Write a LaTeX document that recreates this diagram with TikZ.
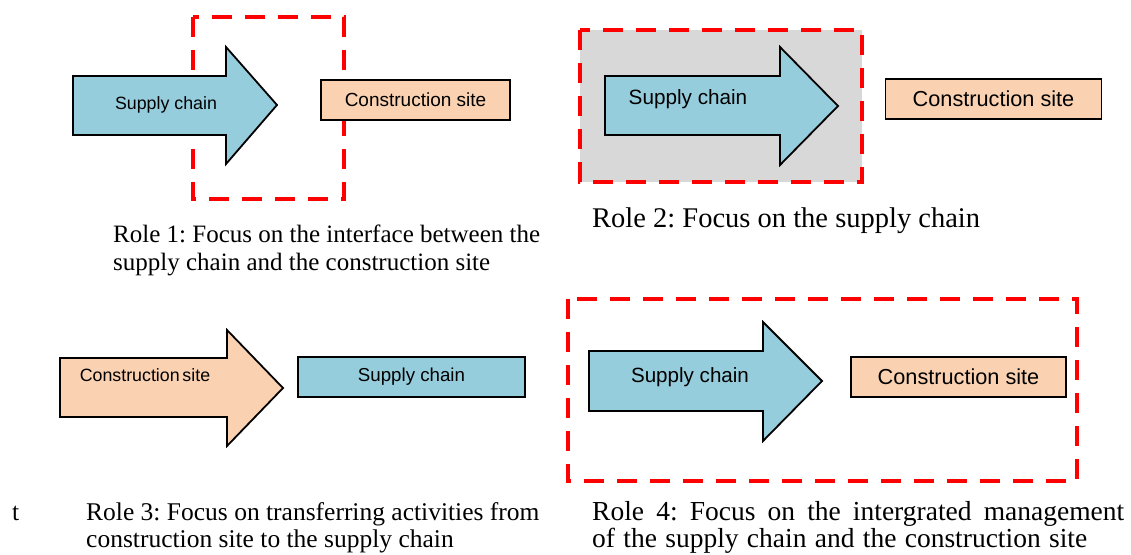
\documentclass[tikz,border=0pt]{standalone}
\usepackage{fontspec}
\setmainfont{Liberation Serif}
\setsansfont{Liberation Sans}
\usepackage{tikz}
\frenchspacing
\definecolor{scblue}{RGB}{150, 205, 220}
\definecolor{csorange}{RGB}{250, 210, 178}
\definecolor{focusgray}{RGB}{216, 216, 216}
\definecolor{focusred}{RGB}{255, 0, 0}
\tikzset{
	focus/.style={focusred, line width=4pt, dash pattern=on 20pt off 13pt},
	bigarrow/.style={draw=black, line width=1.8pt, line join=miter},
	flatbox/.style={draw=black, line width=1.4pt, minimum height=40pt, inner sep=0pt},
	boxtext/.style={font=\sffamily, inner sep=0pt},
	role/.style={anchor=base west, inner sep=0pt}
}

\begin{document}
\begin{tikzpicture}[x=1pt, y=-1pt]
	\useasboundingbox (0,0) rectangle (1131,554);
	
	% Role 1
	\draw[focus] (193,17) rectangle (344,199);
	\draw[bigarrow, fill=scblue] (73,76) -- (226,76) -- (226,47) -- (277,105) -- (226,164) -- (226,135) -- (73,135) -- cycle;
	\node[boxtext, font=\sffamily\fontsize{17.8}{20}\selectfont] (sc1) at (166,105) {Supply chain};
	\node[flatbox, fill=csorange, minimum width=189pt] (cs1) at (415.5,100) {};
	\node[boxtext, font=\sffamily\fontsize{19}{22}\selectfont] (cs1t) at (cs1) {Construction site};
	\node[role, font=\fontsize{25}{28}\selectfont] (r1a) at (113,242) {Role 1: Focus on the interface between the};
	\node[role, font=\fontsize{25}{28}\selectfont] (r1b) at (113,270) {supply chain and the construction site};
	
	% Role 2
	\draw[focus, fill=focusgray] (580,30) rectangle (862,182);
	\draw[bigarrow, fill=scblue] (605,76) -- (780,76) -- (780,47) -- (838,106) -- (780,165) -- (780,135) -- (605,135) -- cycle;
	\node[boxtext, font=\sffamily\fontsize{20.7}{24}\selectfont] (sc2) at (688,99) {Supply chain};
	\node[flatbox, fill=csorange, minimum width=216pt] (cs2) at (993.5,99) {};
	\node[boxtext, font=\sffamily\fontsize{21.7}{24}\selectfont] (cs2t) at (cs2) {Construction site};
	\node[role, font=\fontsize{28.5}{30}\selectfont] (r2) at (592,227) {Role 2: Focus on the supply chain};
	
	% Role 3
	\draw[bigarrow, fill=csorange] (60,358) -- (227,358) -- (227,330) -- (283,388) -- (227,446) -- (227,417) -- (60,417) -- cycle;
	\node[boxtext, font=\sffamily\fontsize{17.8}{20}\selectfont] (cs3) at (145,375) {Construction\hspace{-0.12em} site};
	\node[flatbox, fill=scblue, minimum width=227pt] (sc3) at (411.5,377) {};
	\node[boxtext, font=\sffamily\fontsize{18.7}{22}\selectfont] (sc3t) at (sc3) {Supply chain};
	\node[role, font=\fontsize{25.5}{28}\selectfont] (tt) at (12,520) {t};
	\node[role, font=\fontsize{25.5}{28}\selectfont] (r3a) at (86,520) {Role 3: Focus on transferring activities from};
	\node[role, font=\fontsize{25.5}{28}\selectfont] (r3b) at (86,547) {construction site to the supply chain};
	
	% Role 4
	\draw[focus] (568,299) rectangle (1077,481);
	\draw[bigarrow, fill=scblue] (589,351) -- (763,351) -- (763,322) -- (822,381) -- (763,441) -- (763,411) -- (589,411) -- cycle;
	\node[boxtext, font=\sffamily\fontsize{20.6}{24}\selectfont] (sc4) at (690,377) {Supply chain};
	\node[flatbox, fill=csorange, minimum width=215pt] (cs4) at (958.5,377) {};
	\node[boxtext, font=\sffamily\fontsize{21.7}{24}\selectfont] (cs4t) at (cs4) {Construction site};
	\node[role, font=\fontsize{27.5}{28}\selectfont] (r4a) at (592,520) {\makebox[532pt][s]{Role 4: Focus on the intergrated management}};
	\node[role, font=\fontsize{27.5}{28}\selectfont] (r4b) at (592,547) {\makebox[495pt][s]{of the supply chain and the construction site}};
\end{tikzpicture}
\end{document}
